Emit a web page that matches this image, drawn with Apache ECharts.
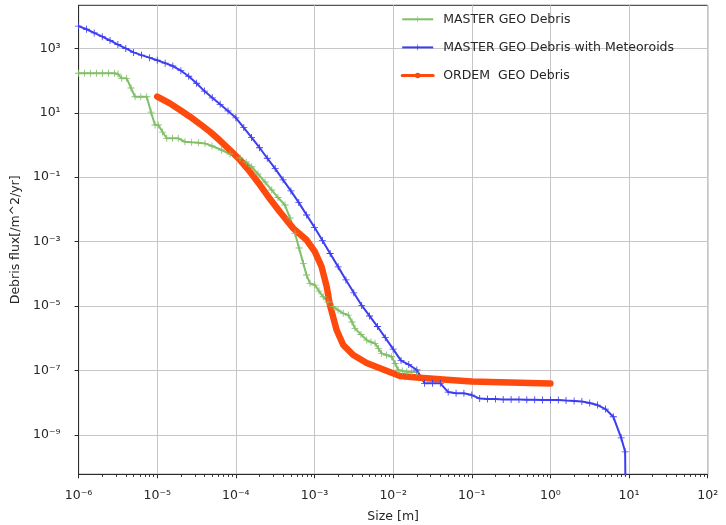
<!DOCTYPE html>
<html>
<head>
<meta charset="utf-8">
<script src="https://cdn.jsdelivr.net/npm/echarts@6.0.0/dist/echarts.min.js"></script>
<style>
  html, body { margin: 0; padding: 0; background: #fff; }
  #debris-flux-chart { width: 726px; height: 525px; }
</style>
</head>
<body>
<div id="debris-flux-chart"></div>
<script>
// size [m] / flux [/m^2/yr]
var masterSize = [1.00e-6, 1.19e-6, 1.42e-6, 1.69e-6, 2.01e-6, 2.40e-6, 2.86e-6, 3.17e-6, 3.53e-6, 4.09e-6,
  4.64e-6, 5.22e-6, 6.18e-6, 7.35e-6, 8.33e-6, 9.37e-6, 1.03e-5, 1.17e-5, 1.32e-5, 1.56e-5,
  1.85e-5, 2.25e-5, 2.74e-5, 3.33e-5, 4.05e-5, 4.97e-5, 6.60e-5, 8.42e-5, 1.13e-4, 1.35e-4,
  1.59e-4, 1.91e-4, 2.35e-4, 2.86e-4, 3.43e-4, 4.21e-4, 4.88e-4, 5.65e-4, 6.35e-4, 7.20e-4,
  7.91e-4, 8.76e-4, 1.01e-3, 1.14e-3, 1.29e-3, 1.48e-3, 1.73e-3, 1.99e-3, 2.32e-3, 2.69e-3,
  3.00e-3, 3.27e-3, 3.90e-3, 4.61e-3, 5.23e-3, 5.88e-3, 6.51e-3, 7.15e-3, 8.23e-3, 9.58e-3,
  1.06e-2, 1.16e-2, 1.31e-2, 1.49e-2, 1.72e-2, 1.99e-2];
var masterFlux = [168, 168, 168, 168, 168, 168, 168, 159, 117, 117,
  58.6, 31.5, 31.5, 31.5, 10.5, 4.16, 4.16, 2.52, 1.61, 1.61,
  1.61, 1.26, 1.21, 1.17, 1.12, 0.929, 0.698, 0.524, 0.394, 0.296,
  0.211, 0.126, 0.0708, 0.0400, 0.0234, 0.0137, 5.41e-3, 1.81e-3, 6.34e-4, 2.12e-4,
  9.20e-5, 5.08e-5, 4.50e-5, 2.93e-5, 1.95e-5, 1.34e-5, 9.55e-6, 7.54e-6, 5.96e-6, 5.27e-6,
  3.20e-6, 2.04e-6, 1.31e-6, 8.83e-7, 7.66e-7, 6.98e-7, 4.81e-7, 3.41e-7, 3.03e-7, 2.68e-7,
  1.65e-7, 1.04e-7, 9.64e-8, 9.17e-8, 8.97e-8, 8.97e-8];

var meteorSize = [1.00e-6, 1.26e-6, 1.58e-6, 2.00e-6, 2.51e-6, 3.16e-6, 3.98e-6, 5.01e-6, 6.31e-6, 7.94e-6,
  1.00e-5, 1.26e-5, 1.58e-5, 2.00e-5, 2.51e-5, 3.16e-5, 3.98e-5, 5.01e-5, 6.31e-5, 7.94e-5,
  1.00e-4, 1.26e-4, 1.58e-4, 2.00e-4, 2.51e-4, 3.16e-4, 3.98e-4, 5.01e-4, 6.31e-4, 7.94e-4,
  1.00e-3, 1.26e-3, 1.58e-3, 2.00e-3, 2.51e-3, 3.16e-3, 3.98e-3, 5.01e-3, 6.31e-3, 7.94e-3,
  1.00e-2, 1.26e-2, 1.58e-2, 2.00e-2, 2.51e-2, 3.16e-2, 3.98e-2, 5.01e-2, 6.31e-2, 7.94e-2,
  0.100, 0.126, 0.158, 0.200, 0.251, 0.316, 0.398, 0.501, 0.631, 0.794,
  1.00, 1.26, 1.58, 2.00, 2.51, 3.16, 3.98, 5.01, 6.31, 7.94, 8.91, 9.12];
var meteorFlux = [4.9e3, 3.9e3, 3.0e3, 2.3e3, 1.75e3, 1.31e3, 990, 746, 615, 514,
  427, 347, 282, 202, 136, 82.6, 47.0, 29.1, 18.3, 11.4,
  6.97, 3.46, 1.72, 0.822, 0.388, 0.185, 0.0830, 0.0375, 0.0163, 6.70e-3,
  2.78e-3, 1.09e-3, 4.28e-4, 1.65e-4, 6.48e-5, 2.58e-5, 1.05e-5, 4.94e-6, 2.32e-6, 1.05e-6,
  4.61e-7, 2.04e-7, 1.53e-7, 1.04e-7, 4.01e-8, 4.01e-8, 4.01e-8, 2.15e-8, 1.96e-8, 1.96e-8,
  1.73e-8, 1.35e-8, 1.30e-8, 1.30e-8, 1.27e-8, 1.26e-8, 1.26e-8, 1.24e-8, 1.23e-8, 1.21e-8,
  1.21e-8, 1.21e-8, 1.17e-8, 1.14e-8, 1.10e-8, 9.77e-9, 8.47e-9, 6.37e-9, 3.67e-9, 8.18e-10, 3.0e-10, 1e-12];

var ordemSize = [1.00e-5, 1.45e-5, 1.95e-5, 2.61e-5, 3.50e-5, 4.69e-5, 6.28e-5, 8.42e-5, 1.13e-4, 1.51e-4,
  2.03e-4, 2.72e-4, 3.64e-4, 5.37e-4, 7.95e-4, 1.01e-3, 1.23e-3, 1.43e-3, 1.57e-3, 1.91e-3,
  2.32e-3, 3.11e-3, 4.61e-3, 7.49e-3, 1.22e-2, 1.99e-2, 5.28e-2, 0.100, 0.306, 1.0];
var ordemFlux = [31.9, 19.6, 12.2, 7.54, 4.47, 2.58, 1.375, 0.698, 0.341, 0.148,
  0.0572, 0.0210, 8.30e-3, 2.59e-3, 1.12e-3, 4.87e-4, 1.67e-4, 3.99e-5, 1.08e-5, 1.81e-6,
  6.18e-7, 3.03e-7, 1.71e-7, 1.07e-7, 6.75e-8, 6.06e-8, 5.07e-8, 4.55e-8, 4.24e-8, 3.95e-8];

// decade exponents carrying tick labels
var xTickExp = [-6, -5, -4, -3, -2, -1, 0, 1, 2];
var yTickExp = [-9, -7, -5, -3, -1, 1, 3];

var supMap = { '-': '\u207B', '0': '\u2070', '1': '\u00B9', '2': '\u00B2', '3': '\u00B3', '4': '\u2074',
  '5': '\u2075', '6': '\u2076', '7': '\u2077', '8': '\u2078', '9': '\u2079' };
function powLabel(v) {
  var s = String(Math.round(v));
  return '10' + s.split('').map(function (c) { return supMap[c]; }).join('');
}
function toLog(sizes, fluxes) {
  return sizes.map(function (s, i) { return [Math.log10(s), Math.log10(fluxes[i])]; });
}

// minor ticks at 2..9 x 10^n
var minorX = [];
for (var n = -6; n < 2; n++) {
  for (var k = 2; k < 10; k++) minorX.push(n + Math.log10(k));
}

var plusSymbol = 'path://M4.4,0H5.6V4.4H10V5.6H5.6V10H4.4V5.6H0V4.4H4.4Z';
var textColor = '#262626';
var axisColor = '#2b2b2b';
var font = 'DejaVu Sans';

var chart = echarts.init(document.getElementById('debris-flux-chart'), null, { renderer: 'canvas' });

const option = {
  animation: false,
  textStyle: { fontFamily: font },
  grid: {
    left: 78.6, right: 18.3, top: 5.3, bottom: 50.7,
    outerBoundsMode: 'none', containLabel: false,
    show: true, borderColor: axisColor, borderWidth: 1, backgroundColor: 'transparent'
  },
  legend: {
    orient: 'vertical',
    left: 395.7, top: 7.8,
    itemWidth: 31, itemHeight: 7, itemGap: 15.1,
    textStyle: { fontFamily: font, fontSize: 12.5, color: textColor, padding: [0, 0, 0, 5] },
    data: [
      { name: 'MASTER GEO Debris', lineStyle: { width: 2 } },
      { name: 'MASTER GEO Debris with Meteoroids', lineStyle: { width: 2 } },
      { name: 'ORDEM  GEO Debris', lineStyle: { width: 3 } }
    ]
  },
  xAxis: [
    {
      type: 'value', min: -6, max: 2, interval: 1,
      name: 'Size [m]', nameLocation: 'middle', nameGap: 36,
      nameTextStyle: { fontFamily: font, fontSize: 12.5, color: textColor },
      axisLine: { onZero: false, lineStyle: { color: axisColor, width: 1 } },
      axisTick: { length: 4, lineStyle: { color: axisColor } },
      axisLabel: { margin: 15, fontFamily: font, fontSize: 12.5, color: textColor, formatter: powLabel,
        customValues: xTickExp },
      splitLine: { show: true, lineStyle: { color: '#c6c6c6', width: 1 } }
    },
    {
      type: 'value', min: -6, max: 2, position: 'bottom',
      axisLine: { show: false, onZero: false },
      axisTick: { length: 2.5, lineStyle: { color: axisColor }, customValues: minorX },
      axisLabel: { show: false },
      splitLine: { show: false }
    }
  ],
  yAxis: {
    type: 'value', min: -10.22, max: 4.335,
    name: 'Debris flux[/m^2/yr]', nameLocation: 'middle', nameGap: 53, nameRotate: 90,
    nameTextStyle: { fontFamily: font, fontSize: 12.5, color: textColor },
    axisLine: { show: true, onZero: false, lineStyle: { color: axisColor, width: 1 } },
    axisTick: { show: true, length: 4, lineStyle: { color: axisColor }, customValues: yTickExp },
    axisLabel: { margin: 18, fontFamily: font, fontSize: 12.5, color: textColor, formatter: powLabel,
      customValues: yTickExp },
    splitLine: { show: true, lineStyle: { color: '#c6c6c6', width: 1 } }
  },
  series: [
    {
      name: 'MASTER GEO Debris', type: 'line',
      data: toLog(masterSize, masterFlux),
      symbol: plusSymbol, symbolSize: 7,
      itemStyle: { color: '#82bf6a' },
      lineStyle: { color: '#82bf6a', width: 2 }
    },
    {
      name: 'MASTER GEO Debris with Meteoroids', type: 'line',
      data: toLog(meteorSize, meteorFlux),
      symbol: plusSymbol, symbolSize: 7,
      itemStyle: { color: '#3d3df2' },
      lineStyle: { color: '#3d3df2', width: 2 }
    },
    {
      name: 'ORDEM  GEO Debris', type: 'line',
      data: toLog(ordemSize, ordemFlux),
      symbol: 'circle', symbolSize: 5, showSymbol: false,
      itemStyle: { color: '#ff4a0d' },
      lineStyle: { color: '#ff4a0d', width: 6.5, cap: 'round', join: 'round' }
    }
  ]
};

// 渲染
chart.setOption(option);
window.addEventListener("resize", () => {
    chart.resize();
});
</script>
</body>
</html>
